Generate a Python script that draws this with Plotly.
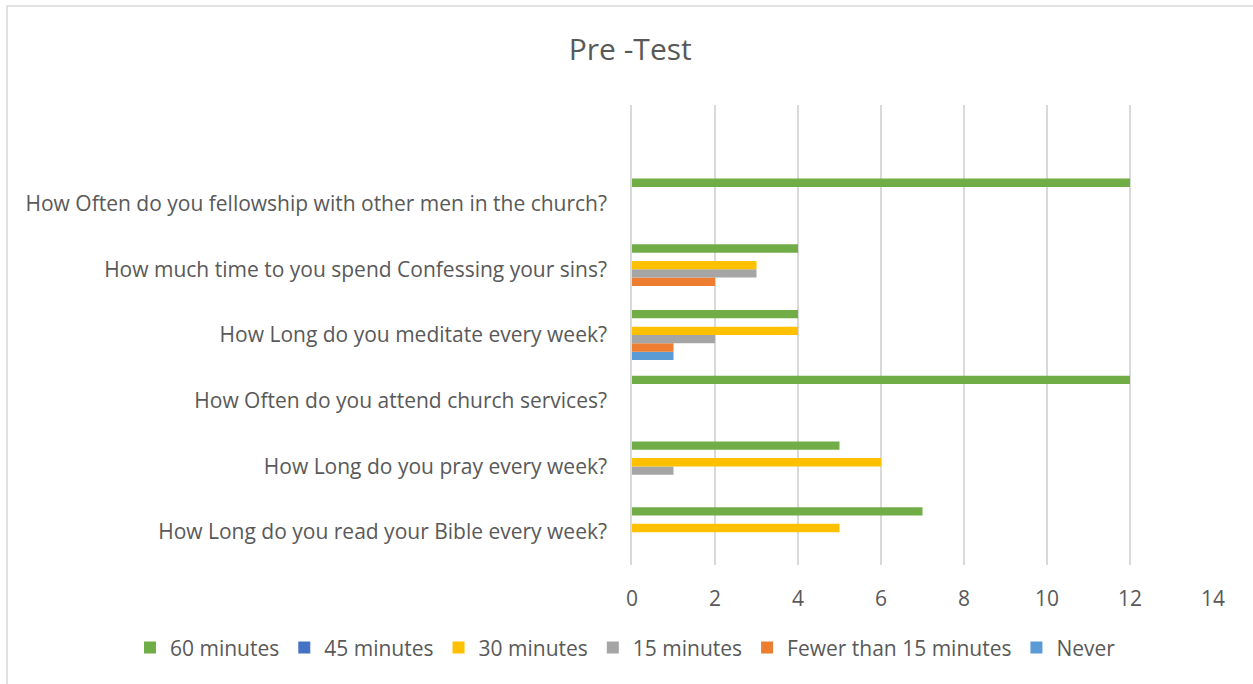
"""Pre-Test survey responses as a horizontal grouped bar chart."""

import plotly.graph_objects as go

QUESTIONS = [
    "How Long do you read your Bible every week?",
    "How Long do you pray every week?",
    "How Often do you attend church services?",
    "How Long do you meditate every week?",
    "How much time to you spend Confessing your sins?",
    "How Often do you fellowship with other men in the church?",
]

SERIES = ["60 minutes", "45 minutes", "30 minutes", "15 minutes", "Fewer than 15 minutes", "Never"]
COLORS = ["#70AD47", "#4472C4", "#FFC000", "#A5A5A5", "#ED7D31", "#5B9BD5"]

MIN_60 = [7, 5, 12, 4, 4, 12]
MIN_45 = [0, 0, 0, 0, 0, 0]
MIN_30 = [5, 6, 0, 4, 3, 0]
MIN_15 = [0, 1, 0, 2, 3, 0]
FEWER_15 = [0, 0, 0, 1, 2, 0]
NEVER = [0, 0, 0, 1, 0, 0]

X_TICKS = [0, 2, 4, 6, 8, 10, 12, 14]

FONT = "'Open Sans', sans-serif"
TEXT_COLOR = "#595959"
GRID_COLOR = "#d9d9d9"

values = [MIN_60, MIN_45, MIN_30, MIN_15, FEWER_15, NEVER]
positions = list(range(len(QUESTIONS)))

fig = go.Figure()
# plotly stacks grouped horizontal bars bottom-up, so add the last series first
for name, color, vals in reversed(list(zip(SERIES, COLORS, values))):
    fig.add_trace(
        go.Bar(
            y=positions,
            x=vals,
            name=name,
            orientation="h",
            marker={"color": color, "line": {"width": 0}},
            hovertemplate="%{x}<extra>" + name + "</extra>",
        )
    )

# outer chart border (only left and top edges fall inside the picture)
fig.add_shape(
    type="rect",
    xref="paper",
    yref="paper",
    x0=-1.0757,
    x1=1.09,
    y0=-0.28,
    y1=1.2152,
    line={"color": GRID_COLOR, "width": 1.5},
    layer="below",
)

fig.update_layout(
    width=1253,
    height=684,
    paper_bgcolor="white",
    plot_bgcolor="white",
    barmode="group",
    bargap=0.24,
    bargroupgap=0,
    font={"family": FONT, "color": TEXT_COLOR, "size": 21},
    margin={"l": 632, "r": 40, "t": 105, "b": 119},
    title={
        "text": "Pre -Test",
        "x": 0.503,
        "xref": "container",
        "xanchor": "center",
        "y": 0.927,
        "yref": "container",
        "yanchor": "middle",
        "font": {"size": 30, "color": TEXT_COLOR, "family": FONT},
    },
    legend={
        "orientation": "h",
        "traceorder": "reversed",
        "x": -0.864,
        "xanchor": "left",
        "y": -0.18,
        "yanchor": "middle",
        "bgcolor": "rgba(0,0,0,0)",
        "font": {"size": 21, "color": TEXT_COLOR},
        "itemwidth": 30,
    },
    showlegend=True,
)
fig.update_xaxes(
    range=[0, 14],
    tickvals=X_TICKS,
    showgrid=True,
    gridcolor=GRID_COLOR,
    gridwidth=1.5,
    zeroline=False,
    showline=False,
    ticks="outside",
    ticklen=15,
    tickcolor="rgba(0,0,0,0)",
    fixedrange=True,
)
fig.update_yaxes(
    range=[-0.5, 6.5],
    tickvals=positions,
    ticktext=QUESTIONS,
    showgrid=False,
    zeroline=False,
    showline=True,
    linecolor=GRID_COLOR,
    linewidth=1.5,
    ticks="outside",
    ticklen=19,
    tickcolor="rgba(0,0,0,0)",
    fixedrange=True,
)

# drop the browser's default body margin so the figure sits at the page corner
fig.write_html(
    "out.html",
    config={"displayModeBar": False},
    post_script="document.body.style.margin = '0';",
)
